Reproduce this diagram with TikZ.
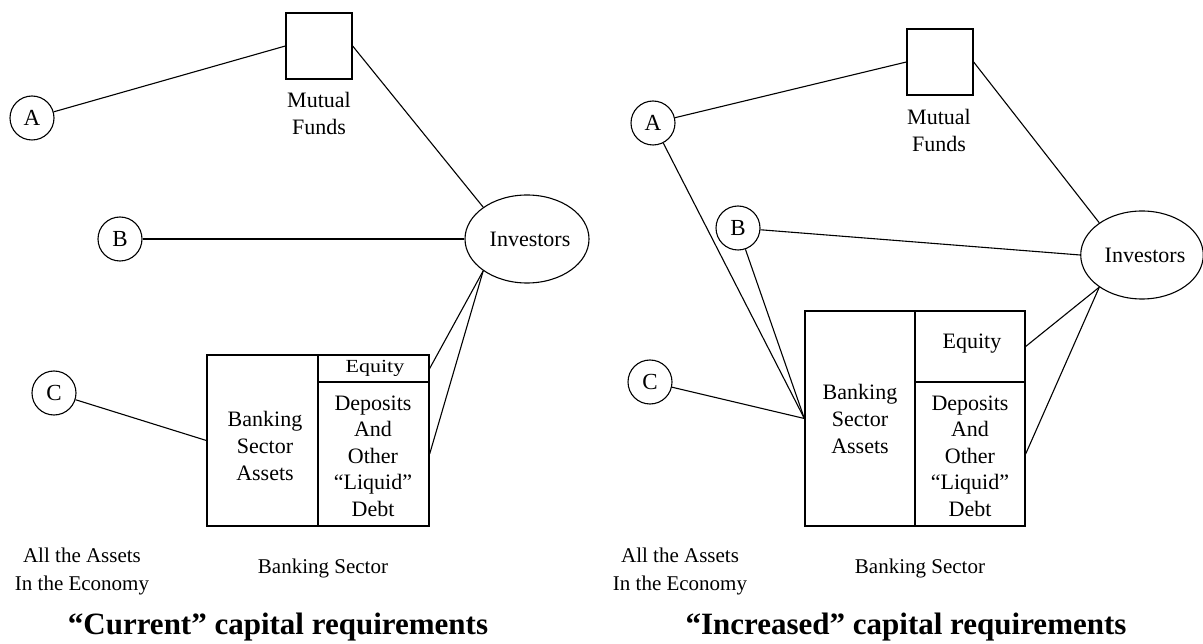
\documentclass[tikz,border=0pt]{standalone}
\usepackage{fontspec}
\setmainfont{Liberation Serif}
\usetikzlibrary{shapes.geometric}
\begin{document}
\begin{tikzpicture}[x=1pt,y=-1pt,
  every node/.style={font=\fontsize{22}{27}\selectfont},
  circ/.style={draw, circle, minimum size=44pt, inner sep=0pt, line width=1.1pt, font=\fontsize{23}{27}\selectfont},
  boxn/.style={draw, rectangle, inner sep=0pt, line width=1.3pt},
  conn/.style={line width=1.1pt},
  thickconn/.style={line width=2pt},
  lbl/.style={align=center, inner sep=0pt},
  titlen/.style={font=\fontsize{31}{36}\selectfont\bfseries, inner sep=0pt},
  invn/.style={draw, ellipse, inner sep=0pt, line width=1.1pt}
]
\useasboundingbox (0,0) rectangle (1203,644);

% ---------------- Left panel ----------------
\node[circ] (AL) at (32,118) {A};
\node[circ] (BL) at (120,239) {B};
\node[circ] (CL) at (54,393) {C};
\node[boxn, minimum width=66pt, minimum height=66pt] (mfL) at (319,46) {};
\node[lbl] (mftL) at (319,113) {Mutual\\Funds};
\node[invn, minimum width=124pt, minimum height=88pt] (invL) at (527,239) {\hspace*{6pt}Investors};
\node[boxn, minimum width=111pt, minimum height=171pt] (assL) at (262.5,440.5) {};
\node[boxn, minimum width=111pt, minimum height=27pt] (eqL) at (373.5,368.5) {};
\node[boxn, minimum width=111pt, minimum height=144pt] (depL) at (373.5,454) {};
\node[lbl] (asstL) at (265,446) {Banking\\Sector\\Assets};
\node[lbl] (eqtL) at (375,368) {\scalebox{1}[0.84]{Equity}};
\node[lbl, font=\fontsize{22}{26.5}\selectfont] (deptL) at (373,456) {Deposits\\And\\Other\\“Liquid”\\Debt};
\node[lbl, font=\fontsize{21}{28}\selectfont] (econL) at (82,571) {All the Assets\\In the Economy};
\node[lbl, font=\fontsize{21}{28}\selectfont] (bsL) at (323,568) {Banking Sector};
\node[titlen] (titL) at (278,627) {“Current” capital requirements};

\draw[conn] (AL) -- (mfL.west);
\draw[conn] (mfL.east) -- (invL.144);
\draw[thickconn] (BL) -- (invL.west);
\draw[conn] (CL) -- (assL.west);
\draw[conn] (invL.216) -- (eqL.east);
\draw[conn] (invL.216) -- (depL.east);

% ---------------- Right panel ----------------
\node[circ] (AR) at (653,123) {A};
\node[circ] (BR) at (738,228) {B};
\node[circ] (CR) at (650,382) {C};
\node[boxn, minimum width=66pt, minimum height=66pt] (mfR) at (940,62) {};
\node[lbl] (mftR) at (939,130) {Mutual\\Funds};
\node[invn, minimum width=118pt, minimum height=88pt] (invR) at (1142,255) {\hspace*{6pt}Investors};
\node[boxn, minimum width=110pt, minimum height=215pt] (assR) at (860,418.5) {};
\node[boxn, minimum width=110pt, minimum height=71pt] (eqR) at (970,346.5) {};
\node[boxn, minimum width=110pt, minimum height=144pt] (depR) at (970,454) {};
\node[lbl] (asstR) at (860,419) {Banking\\Sector\\Assets};
\node[lbl] (eqtR) at (972,344) {Equity};
\node[lbl, font=\fontsize{22}{26.5}\selectfont] (deptR) at (970,456) {Deposits\\And\\Other\\“Liquid”\\Debt};
\node[lbl, font=\fontsize{21}{28}\selectfont] (econR) at (680,571) {All the Assets\\In the Economy};
\node[lbl, font=\fontsize{21}{28}\selectfont] (bsR) at (920,568) {Banking Sector};
\node[titlen] (titR) at (906,627) {“Increased” capital requirements};

\draw[conn] (AR) -- (mfR.west);
\draw[conn] (mfR.east) -- (invR.143);
\draw[conn] (BR) -- (invR.west);
\draw[conn] (AR) -- (assR.west);
\draw[conn] (BR) -- (assR.west);
\draw[conn] (CR) -- (assR.west);
\draw[conn] (invR.217) -- (eqR.east);
\draw[conn] (invR.217) -- (depR.east);
\end{tikzpicture}
\end{document}
